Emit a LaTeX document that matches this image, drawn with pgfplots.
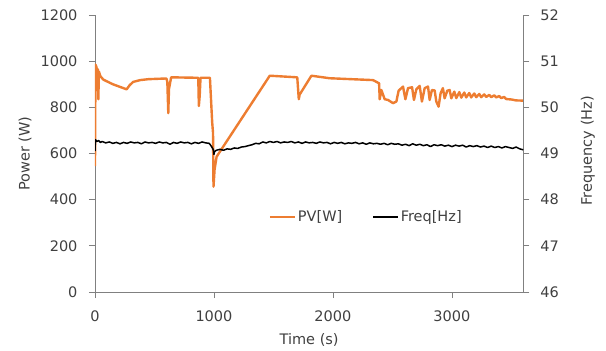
\documentclass[border=0pt]{standalone}
\usepackage{pgfplots}
\pgfplotsset{compat=1.18}
\usepackage{fontspec}
\setmainfont{DejaVu Sans}
\definecolor{pvorange}{HTML}{ED7D31}
\definecolor{axgray}{HTML}{808080}
\definecolor{txtgray}{HTML}{404040}
\pgfplotsset{
  common/.style={
    scale only axis, width=428.3pt, height=277pt,
    at={(95pt,59pt)}, anchor=south west,
    xmin=0, xmax=3600,
    tick align=outside, major tick length=6pt,
    axis line style={axgray, line width=0.8pt, -},
    every tick/.style={axgray, line width=0.8pt},
    tick label style={font=\fontsize{14.5}{16}\selectfont, text=txtgray},
    /pgf/number format/assume math mode=true,
    /pgf/number format/1000 sep={},
    scaled ticks=false,
  }
}
\begin{document}
\begin{tikzpicture}
\path[use as bounding box] (0,0) rectangle (606pt,351pt);
\begin{axis}[common,
  ymin=0, ymax=1200, ytick={0,200,400,600,800,1000,1200},
  xtick={0,1000,2000,3000},
  axis y line*=left, axis x line*=bottom,
  xticklabel style={anchor=center, yshift=-18pt},
  yticklabel style={anchor=east, xshift=-8pt},
  xlabel={Time (s)}, ylabel={Power (W)},
  every axis x label/.style={at={(axis description cs:0.5,-0.173)}, anchor=center,
    font=\fontsize{14.5}{16}\selectfont, text=txtgray},
  every axis y label/.style={at={(axis description cs:-0.1634,0.5)}, rotate=90, anchor=center,
    font=\fontsize{14.5}{16}\selectfont, text=txtgray},
]
\addplot[pvorange, line width=2.4pt, line join=round] coordinates {
(0,545) (4,985) (12,975) (20,945) (24,965) (28,835) (33,955) (45,935) (70,920)
(150,900) (266,878) (290,895) (320,910) (380,918) (450,922) (600,925)
(608,910) (616,775) (622,880) (640,930) (868,928) (873,806) (880,850) (887,928)
(966,928) (985,735) (992,690) (996,456) (1005,530) (1022,586) (1469,937)
(1700,930) (1713,835) (1720,855) (1819,937) (1973,926) (2337,918) (2388,904)
(2393,835) (2407,875) (2435,835) (2463,832) (2505,818) (2533,825) (2552,872)
(2589,890) (2609,835) (2631,883) (2665,887) (2681,832) (2701,878) (2729,893)
(2748,825) (2771,883) (2799,890) (2813,832) (2832,875) (2855,873) (2869,825)
(2888,803) (2905,861) (2924,883) (2939,839) (2961,872) (2981,875) (2995,839)
(3020,868) (3037,840) (3062,866) (3079,842) (3104,864) (3120,843) (3146,862)
(3162,843) (3188,860) (3204,844) (3230,858) (3246,844) (3272,856) (3288,845)
(3314,854) (3330,844) (3356,852) (3372,843) (3398,849) (3414,840) (3440,845)
(3455,836) (3500,834) (3540,830) (3600,829)
};
\end{axis}
\begin{axis}[common,
  ymin=46, ymax=52, ytick={46,47,48,49,50,51,52},
  axis y line*=right, axis x line=none,
  yticklabel style={anchor=west, xshift=7.5pt},
  ylabel={Frequency (Hz)},
  every axis y label/.style={at={(axis description cs:1.151,0.51)}, rotate=90, anchor=center,
    font=\fontsize{14.5}{16}\selectfont, text=txtgray},
  legend style={at={(0.633,0.271)}, anchor=center, draw=none, fill=none,
    font=\fontsize{14.5}{16}\selectfont, text=txtgray,
    /tikz/every even column/.append style={column sep=28pt}},
  legend columns=2,
  legend image code/.code={\draw[#1] (0pt,0pt) -- (25pt,0pt);},
]
\addlegendimage{pvorange, line width=2.4pt}
\addlegendentry{PV[W]}
\addplot[black, line width=1.5pt, line join=round] coordinates {
(0,49.05) (4,49.30) (15,49.26) (30,49.28) (45,49.24) (60,49.26) (90,49.23)
(120,49.25) (150,49.22) (180,49.24) (210,49.21) (240,49.24) (270,49.22)
(300,49.25) (330,49.23) (360,49.24) (390,49.21) (420,49.25) (450,49.23)
(480,49.24) (510,49.22) (540,49.25) (570,49.23) (600,49.24) (630,49.20)
(660,49.24) (690,49.22) (720,49.25) (750,49.23) (780,49.24) (810,49.21)
(840,49.24) (870,49.22) (900,49.25) (930,49.23) (960,49.22) (980,49.15)
(995,49.08) (1000,48.98) (1005,49.04) (1020,49.07) (1050,49.09) (1080,49.07)
(1110,49.10) (1140,49.09) (1170,49.12) (1200,49.11) (1230,49.14) (1260,49.15)
(1290,49.17) (1320,49.19) (1350,49.22) (1380,49.21) (1410,49.25) (1440,49.23)
(1470,49.26) (1500,49.24) (1530,49.26) (1560,49.23) (1590,49.25) (1620,49.24)
(1650,49.26) (1680,49.23) (1710,49.25) (1740,49.22) (1770,49.25) (1800,49.23)
(1830,49.24) (1860,49.22) (1890,49.25) (1920,49.23) (1950,49.24) (1980,49.21)
(2010,49.24) (2040,49.22) (2070,49.24) (2100,49.21) (2130,49.23) (2160,49.22)
(2190,49.24) (2220,49.21) (2250,49.23) (2280,49.20) (2310,49.23) (2340,49.21)
(2370,49.22) (2400,49.20) (2430,49.22) (2460,49.19) (2490,49.22) (2520,49.20)
(2550,49.21) (2580,49.18) (2610,49.20) (2640,49.17) (2670,49.21) (2700,49.18)
(2730,49.20) (2760,49.17) (2790,49.19) (2820,49.15) (2850,49.19) (2880,49.17)
(2910,49.19) (2940,49.16) (2970,49.18) (3000,49.15) (3030,49.18) (3060,49.16)
(3090,49.18) (3120,49.14) (3150,49.17) (3180,49.15) (3210,49.17) (3240,49.14)
(3270,49.16) (3300,49.13) (3330,49.16) (3360,49.13) (3390,49.15) (3420,49.12)
(3450,49.15) (3480,49.13) (3510,49.11) (3540,49.14) (3570,49.10) (3600,49.08)
};
\addlegendentry{Freq[Hz]}
\end{axis}
\end{tikzpicture}
\end{document}
